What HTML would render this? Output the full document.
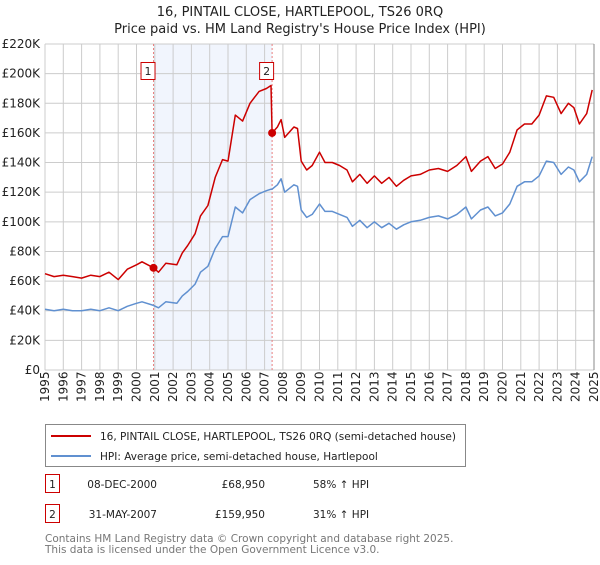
<!DOCTYPE html>
<html><head><meta charset="utf-8"><style>
body{margin:0;background:#fff;font-family:"Liberation Sans","DejaVu Sans",sans-serif;}
svg text{font-family:"DejaVu Sans","Liberation Sans",sans-serif;}
</style></head><body>
<svg id="c" width="600" height="560" xmlns="http://www.w3.org/2000/svg">
<text x="300" y="16" text-anchor="middle" font-size="13" fill="#222">16, PINTAIL CLOSE, HARTLEPOOL, TS26 0RQ</text>
<text x="300" y="33" text-anchor="middle" font-size="13" fill="#222">Price paid vs. HM Land Registry's House Price Index (HPI)</text>
<g id="plot"></g>
<g>
<rect x="45.5" y="424.5" width="420" height="42" fill="#fff" stroke="#888"/>
<line x1="51" y1="436" x2="91" y2="436" stroke="#cc0000" stroke-width="2"/>
<text x="100" y="440" font-size="10.5" fill="#222">16, PINTAIL CLOSE, HARTLEPOOL, TS26 0RQ (semi-detached house)</text>
<line x1="51" y1="456" x2="91" y2="456" stroke="#6090d0" stroke-width="2"/>
<text x="100" y="460" font-size="10.5" fill="#222">HPI: Average price, semi-detached house, Hartlepool</text>
</g>
<g font-size="10.5" fill="#222">
<rect x="45.5" y="474.5" width="14" height="18" fill="#fff" stroke="#cc0000"/>
<text x="52.5" y="488" text-anchor="middle">1</text>
<text x="157" y="488" text-anchor="end">08-DEC-2000</text>
<text x="265" y="488" text-anchor="end">£68,950</text>
<text x="313" y="488">58% ↑ HPI</text>
<rect x="45.5" y="504.5" width="14" height="18" fill="#fff" stroke="#cc0000"/>
<text x="52.5" y="518" text-anchor="middle">2</text>
<text x="157" y="518" text-anchor="end">31-MAY-2007</text>
<text x="265" y="518" text-anchor="end">£159,950</text>
<text x="313" y="518">31% ↑ HPI</text>
</g>
<text x="45" y="542" font-size="10.5" fill="#777">Contains HM Land Registry data © Crown copyright and database right 2025.</text>
<text x="45" y="553" font-size="10.5" fill="#777">This data is licensed under the Open Government Licence v3.0.</text>
</svg>
<script>
const years=[1995.0,1995.5,1996.0,1996.5,1997.0,1997.5,1998.0,1998.5,1999.0,1999.5,2000.0,2000.3,2000.93,2001.2,2001.6,2002.2,2002.5,2002.8,2003.2,2003.5,2003.9,2004.3,2004.7,2005.0,2005.4,2005.8,2006.2,2006.7,2007.1,2007.35,2007.41,2007.7,2007.9,2008.1,2008.6,2008.8,2009.0,2009.3,2009.6,2010.0,2010.3,2010.7,2011.1,2011.5,2011.8,2012.2,2012.6,2013.0,2013.4,2013.8,2014.2,2014.6,2015.0,2015.5,2016.0,2016.5,2017.0,2017.5,2018.0,2018.3,2018.8,2019.2,2019.6,2020.0,2020.4,2020.8,2021.2,2021.6,2022.0,2022.4,2022.8,2023.2,2023.6,2023.9,2024.2,2024.6,2024.9];
const hpiValues=[41,40,41,40,40,41,40,42,40,43,45,46,43.6,42,46,45,50,53,58,66,70,82,90,90,110,106,115,119,121,122,122,125,129,120,125,124,108,103,105,112,107,107,105,103,97,101,96,100,96,99,95,98,100,101,103,104,102,105,110,102,108,110,104,106,112,124,127,127,131,141,140,132,137,135,127,132,144];
const propertyValues=[65,63,64,63,62,64,63,66,61,68,71,73,68.95,66,72,71,79,84,92,104,111,130,142,141,172,168,180,188,190,192,159.95,164,169,157,164,163,141,135,138,147,140,140,138,135,127,132,126,131,126,130,124,128,131,132,135,136,134,138,144,134,141,144,136,139,147,162,166,166,172,185,184,173,180,177,166,173,189];
const saleYears=[2000.93,2007.41];
const salePrices=[68.95,159.95];
const saleLabels=["1","2"];
const yTicks=[0,20,40,60,80,100,120,140,160,180,200,220];
const xTickYears=[1995,1996,1997,1998,1999,2000,2001,2002,2003,2004,2005,2006,2007,2008,2009,2010,2011,2012,2013,2014,2015,2016,2017,2018,2019,2020,2021,2022,2023,2024,2025];

const X0=45,X1=594,Y0=370,Y1=44;
const xs=y=>X0+(y-1995)/30*(X1-X0);
const ys=v=>Y0-v/220*(Y0-Y1);
const NS="http://www.w3.org/2000/svg";
const g=document.getElementById('plot');
function mk(t,a){const e=document.createElementNS(NS,t);for(const k in a)e.setAttribute(k,a[k]);g.appendChild(e);return e;}

const sh=mk('rect',{x:xs(saleYears[0]),y:Y1,width:xs(saleYears[1])-xs(saleYears[0]),height:Y0-Y1,fill:'#eef3fc',opacity:0.8});


xTickYears.forEach(yr=>{
 const l=mk('line',{x1:xs(yr),x2:xs(yr),y1:Y1,y2:Y0,stroke:'#ccc','stroke-width':1});
 
 
 const t=mk('text',{x:0,y:0,transform:`translate(${xs(yr)+4},${Y0+32}) rotate(-90)`,'font-size':12,fill:'#222'});
 t.textContent=yr;
 
 
});
yTicks.forEach(v=>{
 const l=mk('line',{x1:X0,x2:X1,y1:ys(v),y2:ys(v),stroke:'#ccc','stroke-width':1});
 
 
 const t=mk('text',{x:40,y:ys(v)+4,'text-anchor':'end','font-size':12,fill:'#222'});
 t.textContent=v===0?'£0':'£'+v+'K';
 
 
});
saleYears.forEach((sy,i)=>{
 const l=mk('line',{x1:xs(sy),x2:xs(sy),y1:Y1,y2:Y0,stroke:'#e88080','stroke-width':1,'stroke-dasharray':'2,2'});
 
 
});
function path(vals,col,name){
 const d=years.map((y,i)=>(i?'L':'M')+xs(y).toFixed(1)+','+ys(vals[i]).toFixed(1)).join('');
 const p=mk('path',{d:d,fill:'none',stroke:col,'stroke-width':1.5,'stroke-linejoin':'round'});
 
 
}
path(hpiValues,'#6090d0','hpi-line');
path(propertyValues,'#cc0000','property-line');
saleYears.forEach((sy,i)=>{
 const c=mk('circle',{cx:xs(sy),cy:ys(salePrices[i]),r:4,fill:'#cc0000'});
 
 
 const r=mk('rect',{x:xs(sy)-12.5,y:62.5,width:14,height:17,fill:'#fff',stroke:'#cc0000'});
 
 
 const t=mk('text',{x:xs(sy)-5.5,y:75,'text-anchor':'middle','font-size':11,fill:'#222'});
 t.textContent=saleLabels[i];
 
 
});
const ax=mk('line',{x1:X1,x2:X1,y1:Y1,y2:Y0,stroke:'#888'});


</script>
</body></html>
